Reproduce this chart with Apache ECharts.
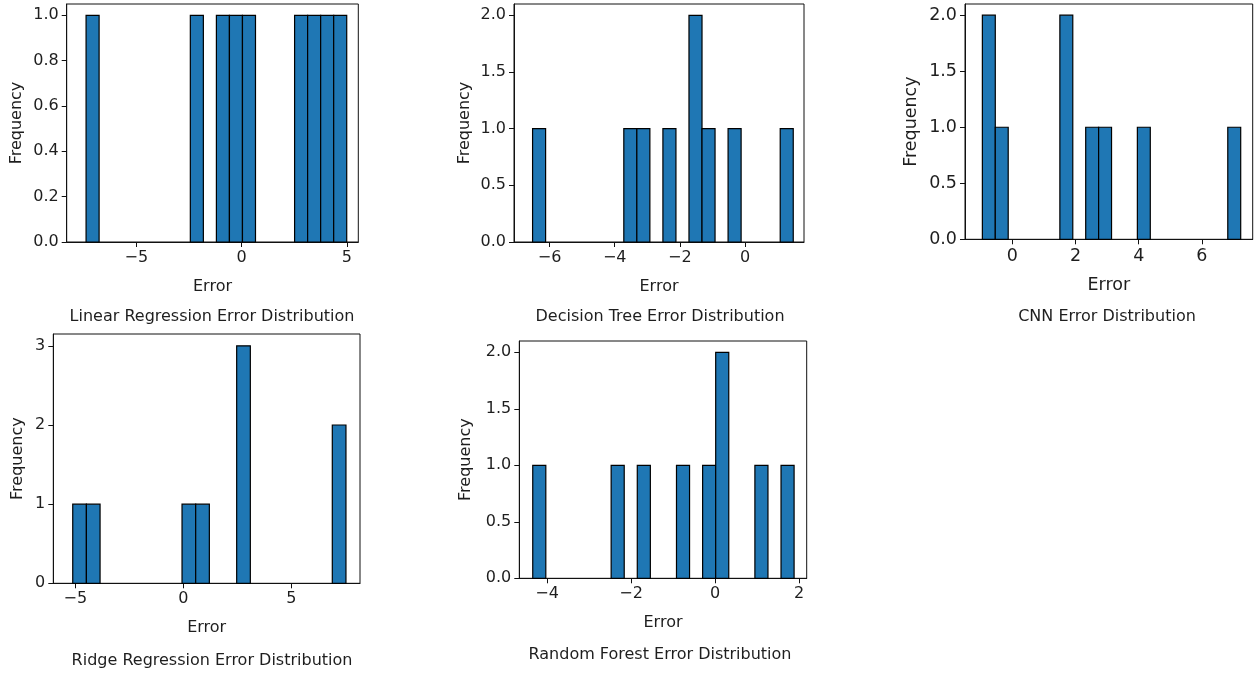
<!DOCTYPE html>
<html>
<head>
<meta charset="utf-8">
<script src="https://cdn.jsdelivr.net/npm/echarts@6/dist/echarts.min.js"></script>
<style>
  html, body { margin: 0; padding: 0; background: #fff; }
  #main { width: 1259px; height: 673px; }
</style>
</head>
<body>
<div id="main"></div>
<script>
// histogram counts (20 bins each) and the data range the bins cover
var linCounts = [1, 0, 0, 0, 0, 0, 0, 0, 1, 0, 1, 1, 1, 0, 0, 0, 1, 1, 1, 1];
var linRange = [-7.39, 4.99];
var treeCounts = [1, 0, 0, 0, 0, 0, 0, 1, 1, 0, 1, 0, 2, 1, 0, 1, 0, 0, 0, 1];
var treeRange = [-6.52, 1.48];
var cnnCounts = [2, 1, 0, 0, 0, 0, 2, 0, 1, 1, 0, 0, 1, 0, 0, 0, 0, 0, 0, 1];
var cnnRange = [-0.95, 7.23];
var ridgeCounts = [1, 1, 0, 0, 0, 0, 0, 0, 1, 1, 0, 0, 3, 0, 0, 0, 0, 0, 0, 2];
var ridgeRange = [-5.12, 7.53];
var forestCounts = [1, 0, 0, 0, 0, 0, 1, 0, 1, 0, 0, 1, 0, 1, 2, 0, 0, 1, 0, 1];
var forestRange = [-4.34, 1.88];

// tick labels
var linXTicks = [-5, 0, 5];
var treeXTicks = [-6, -4, -2, 0];
var cnnXTicks = [0, 2, 4, 6];
var ridgeXTicks = [-5, 0, 5];
var forestXTicks = [-4, -2, 0, 2];
var unitYTicks = [0, 0.2, 0.4, 0.6, 0.8, 1.0];
var twoYTicks = [0, 0.5, 1.0, 1.5, 2.0];
var threeYTicks = [0, 1, 2, 3];

var titles = [
  "Linear Regression Error Distribution",
  "Decision Tree Error Distribution",
  "CNN Error Distribution",
  "Ridge Regression Error Distribution",
  "Random Forest Error Distribution"
];

var FONT = "DejaVu Sans";

var panels = [
  { counts: linCounts, range: linRange, xlim: [-8.31, 5.54], xticks: linXTicks, yticks: unitYTicks, ymax: 1.05, dec: 1,
    box: [66.7, 4, 291.6, 238], yGap: 42, cap: [212, 317], fs: 16 },
  { counts: treeCounts, range: treeRange, xlim: [-7.09, 1.81], xticks: treeXTicks, yticks: twoYTicks, ymax: 2.1, dec: 1,
    box: [514, 4, 290, 238], yGap: 41, cap: [660, 317], fs: 16 },
  { counts: cnnCounts, range: cnnRange, xlim: [-1.5, 7.61], xticks: cnnXTicks, yticks: twoYTicks, ymax: 2.1, dec: 1,
    box: [965, 4, 287.7, 235.3], yGap: 45, cap: [1107, 317], fs: 17.5 },
  { counts: ridgeCounts, range: ridgeRange, xlim: [-6.02, 8.18], xticks: ridgeXTicks, yticks: threeYTicks, ymax: 3.15, dec: 0,
    box: [53.3, 334, 306.7, 249.3], yGap: 27, cap: [212, 661], fs: 16 },
  { counts: forestCounts, range: forestRange, xlim: [-4.66, 2.18], xticks: forestXTicks, yticks: twoYTicks, ymax: 2.1, dec: 1,
    box: [519.3, 341, 287.4, 237.3], yGap: 45, cap: [660, 655], fs: 16 }
];

function minus(s) {
  return String(s).replace("-", "\u2212");
}

function binItems(counts, range) {
  var w = (range[1] - range[0]) / counts.length;
  var res = [];
  for (var i = 0; i < counts.length; i++) {
    if (counts[i] > 0) {
      res.push([range[0] + i * w, range[0] + (i + 1) * w, counts[i]]);
    }
  }
  return res;
}

function renderBar(params, api) {
  var a = api.coord([api.value(0), api.value(2)]);
  var b = api.coord([api.value(1), 0]);
  return {
    type: "rect",
    shape: { x: a[0], y: a[1], width: b[0] - a[0], height: b[1] - a[1] },
    style: { fill: "#1f77b4", stroke: "#000", lineWidth: 1.2 }
  };
}

var grid = [], xAxis = [], yAxis = [], series = [], graphic = [];

panels.forEach(function (p, i) {
  grid.push({
    left: p.box[0], top: p.box[1], width: p.box[2], height: p.box[3],
    show: true, borderColor: "#111", borderWidth: 1, backgroundColor: "#fff",
    containLabel: false, outerBoundsMode: "none"
  });
  xAxis.push({
    type: "value", gridIndex: i, min: p.xlim[0], max: p.xlim[1],
    axisLine: { onZero: false, lineStyle: { color: "#111", width: 1 } },
    axisTick: { customValues: p.xticks, length: 5, lineStyle: { color: "#111" } },
    axisLabel: {
      customValues: p.xticks, margin: 8, color: "#1e1e1e", fontFamily: FONT, fontSize: p.fs,
      formatter: function (v) { return minus(v); }
    },
    splitLine: { show: false },
    name: "Error", nameLocation: "middle", nameGap: 37,
    nameTextStyle: { color: "#1e1e1e", fontFamily: FONT, fontSize: p.fs }
  });
  yAxis.push({
    type: "value", gridIndex: i, min: 0, max: p.ymax,
    axisLine: { show: true, onZero: false, lineStyle: { color: "#111", width: 1 } },
    axisTick: { show: true, customValues: p.yticks, length: 5, lineStyle: { color: "#111" } },
    axisLabel: {
      customValues: p.yticks, margin: 8, color: "#1e1e1e", fontFamily: FONT, fontSize: p.fs,
      formatter: function (v) { return v.toFixed(p.dec); }
    },
    splitLine: { show: false },
    name: "Frequency", nameLocation: "middle", nameGap: p.yGap,
    nameTextStyle: { color: "#1e1e1e", fontFamily: FONT, fontSize: p.fs }
  });
  series.push({
    type: "custom", xAxisIndex: i, yAxisIndex: i,
    renderItem: renderBar,
    encode: { x: [0, 1], y: 2 },
    data: binItems(p.counts, p.range),
    silent: true
  });
  graphic.push({
    type: "text", x: p.cap[0], y: p.cap[1],
    style: { text: titles[i], fill: "#1e1e1e", font: "16px " + FONT, textAlign: "center", textVerticalAlign: "middle" }
  });
});

var myChart = echarts.init(document.getElementById("main"));
var option = {
  animation: false,
  backgroundColor: "#fff",
  grid: grid,
  xAxis: xAxis,
  yAxis: yAxis,
  series: series,
  graphic: graphic
};
myChart.setOption(option);
</script>
</body>
</html>
